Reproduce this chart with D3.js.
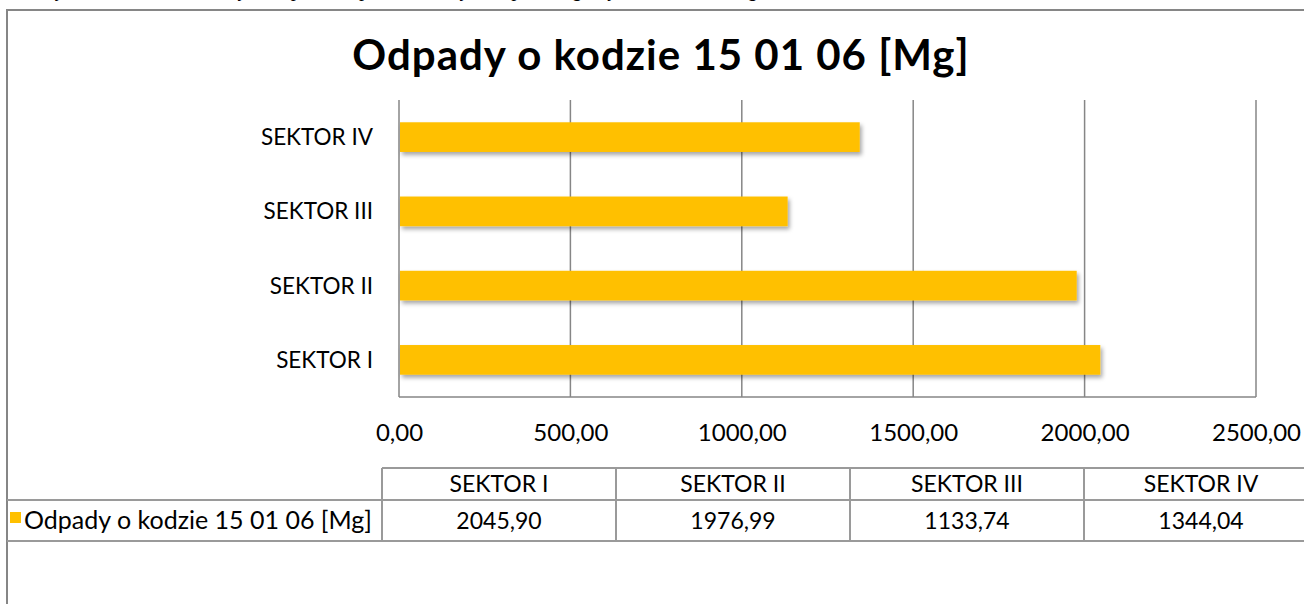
<!DOCTYPE html>
<html>
<head>
<meta charset="utf-8">
<script src="https://cdn.jsdelivr.net/npm/d3@7"></script>
<style>
  html, body { margin: 0; padding: 0; background: #fff; overflow: hidden; }
  svg { display: block; font-family: Lato, "Open Sans", sans-serif; }
  .grid line { stroke: #868686; stroke-width: 1.5; }
  .axis path, .axis line { display: none; }
  .axis text { fill: #000; font-size: 24px; font-family: Lato, sans-serif; }
  .y.axis text { font-size: 22.5px; }
  .table line { stroke: #9a9a9a; stroke-width: 2; }
  .table text { fill: #000; font-size: 23px; }
  .table text.legend { font-size: 25px; }
</style>
</head>
<body>
<div id="chart"></div>
<script>
// data
var caption = "Wykres 9. Ilość zmieszanych odpadów opakowaniowych w poszczególnych sektorach [Mg]";
var title = "Odpady o kodzie 15 01 06 [Mg]";
var seriesName = "Odpady o kodzie 15 01 06 [Mg]";
var categories = ["SEKTOR I", "SEKTOR II", "SEKTOR III", "SEKTOR IV"];
var values = [2045.90, 1976.99, 1133.74, 1344.04];
var xTicks = [0, 500, 1000, 1500, 2000, 2500];

var barColor = "#FFC000";
var lineColor = "#868686";

var locale = d3.formatLocale({ decimal: ",", thousands: "", grouping: [3], currency: ["", ""] });
var fmt = locale.format(".2f");

var width = 1304, height = 604;
var margins = { top: 100, right: 48, bottom: 207, left: 399 };

var svg = d3.select("#chart").append("svg")
  .attr("width", width)
  .attr("height", height);

var defs = svg.append("defs");
defs.append("filter")
  .attr("id", "shadow")
  .attr("x", "-5%").attr("y", "-30%")
  .attr("width", "115%").attr("height", "180%")
  .append("feDropShadow")
  .attr("dx", 2).attr("dy", 3)
  .attr("stdDeviation", 2)
  .attr("flood-color", "#000")
  .attr("flood-opacity", 0.35);

// caption of the document, cut off at the top edge
svg.append("text")
  .attr("x", 42)
  .attr("y", -4)
  .attr("font-family", "'Liberation Serif', serif")
  .attr("font-style", "italic")
  .attr("font-size", 20)
  .text(caption);

// chart border (goes on past the right and bottom edges)
svg.append("rect")
  .attr("x", 7).attr("y", 10)
  .attr("width", 1320).attr("height", 700)
  .attr("fill", "none")
  .attr("stroke", lineColor)
  .attr("stroke-width", 2);

svg.append("text")
  .attr("x", 661)
  .attr("y", 70)
  .attr("text-anchor", "middle")
  .attr("font-weight", "bold")
  .attr("font-size", 42)
  .attr("letter-spacing", 1)
  .text(title);

var xScale = d3.scaleLinear()
  .domain([0, 2500])
  .range([margins.left, width - margins.right]);

var yScale = d3.scaleBand()
  .domain(categories.slice().reverse())
  .range([margins.top, height - margins.bottom])
  .paddingInner(0.6)
  .paddingOuter(0.3);

var chartBottom = height - margins.bottom;

// grid
svg.append("g")
  .attr("class", "grid")
  .selectAll("line")
  .data(xTicks)
  .enter()
  .append("line")
  .attr("x1", d => xScale(d))
  .attr("x2", d => xScale(d))
  .attr("y1", margins.top)
  .attr("y2", chartBottom);

svg.append("g")
  .attr("class", "grid")
  .append("line")
  .attr("x1", xScale(0))
  .attr("x2", xScale(2500))
  .attr("y1", chartBottom)
  .attr("y2", chartBottom);

// bars
svg.append("g")
  .attr("class", "bars")
  .selectAll("rect")
  .data(categories)
  .enter()
  .append("rect")
  .attr("x", xScale(0) + 1)
  .attr("y", d => yScale(d))
  .attr("width", (d, i) => xScale(values[i]) - xScale(0) - 1)
  .attr("height", yScale.bandwidth())
  .attr("fill", barColor)
  .attr("filter", "url(#shadow)");

// axes
var yAxis = d3.axisLeft(yScale).tickSize(0).tickPadding(26);
svg.append("g")
  .attr("class", "y axis")
  .attr("transform", `translate(${margins.left},0)`)
  .call(yAxis)
  .attr("font-family", null)
  .attr("font-size", null)
  .selectAll("text")
  .attr("dy", "0.35em");

var xAxis = d3.axisBottom(xScale).tickValues(xTicks).tickSize(0).tickPadding(27).tickFormat(fmt);
svg.append("g")
  .attr("class", "x axis")
  .attr("transform", `translate(0,${chartBottom})`)
  .call(xAxis)
  .attr("font-family", null)
  .attr("font-size", null);

// data table
var colLeft = 382, colWidth = 234;
var rowTop = 468, rowMid = 500, rowBottom = 541;
var table = svg.append("g").attr("class", "table");

table.append("line")
  .attr("x1", colLeft).attr("x2", width + 20)
  .attr("y1", rowTop).attr("y2", rowTop);
table.append("line")
  .attr("x1", 7).attr("x2", width + 20)
  .attr("y1", rowMid).attr("y2", rowMid);
table.append("line")
  .attr("x1", 7).attr("x2", width + 20)
  .attr("y1", rowBottom).attr("y2", rowBottom);

table.selectAll("line.col")
  .data(d3.range(categories.length + 1))
  .enter()
  .append("line")
  .attr("class", "col")
  .attr("x1", i => colLeft + i * colWidth)
  .attr("x2", i => colLeft + i * colWidth)
  .attr("y1", rowTop)
  .attr("y2", rowBottom);

table.selectAll("text.head")
  .data(categories)
  .enter()
  .append("text")
  .attr("class", "head")
  .attr("x", (d, i) => colLeft + (i + 0.5) * colWidth)
  .attr("y", 492)
  .attr("text-anchor", "middle")
  .text(d => d);

table.selectAll("text.val")
  .data(values)
  .enter()
  .append("text")
  .attr("class", "val")
  .attr("x", (d, i) => colLeft + (i + 0.5) * colWidth)
  .attr("y", 529)
  .attr("text-anchor", "middle")
  .text(d => fmt(d));

// legend key
table.append("rect")
  .attr("x", 10).attr("y", 512)
  .attr("width", 11).attr("height", 11)
  .attr("fill", barColor);

table.append("text")
  .attr("class", "legend")
  .attr("x", 24)
  .attr("y", 529)
  .text(seriesName);
</script>
</body>
</html>
